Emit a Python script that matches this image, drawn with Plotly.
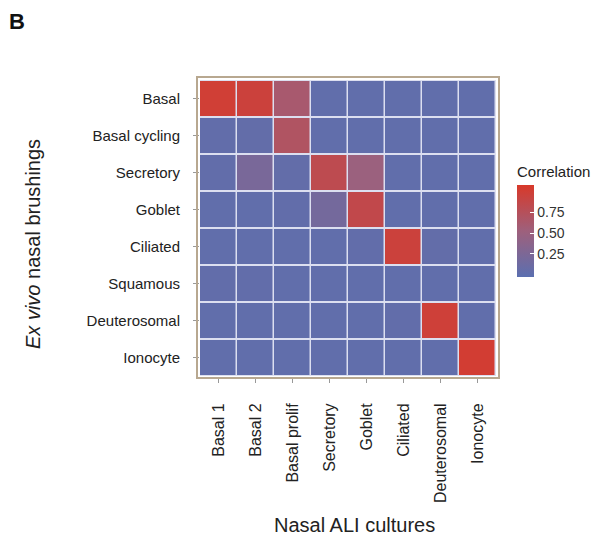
import plotly.graph_objects as go

columns = ["Basal 1", "Basal 2", "Basal prolif", "Secretory", "Goblet", "Ciliated", "Deuterosomal", "Ionocyte"]
rows = ["Basal", "Basal cycling", "Secretory", "Goblet", "Ciliated", "Squamous", "Deuterosomal", "Ionocyte"]

row_basal = [1.00, 0.96, 0.62, 0.02, 0.02, 0.02, 0.02, 0.02]
row_basal_cycling = [0.03, 0.04, 0.70, 0.02, 0.02, 0.02, 0.02, 0.02]
row_secretory = [0.03, 0.22, 0.04, 0.82, 0.50, 0.02, 0.02, 0.02]
row_goblet = [0.02, 0.02, 0.03, 0.18, 0.86, 0.02, 0.02, 0.02]
row_ciliated = [0.02, 0.02, 0.02, 0.02, 0.03, 0.96, 0.04, 0.02]
row_squamous = [0.03, 0.03, 0.02, 0.02, 0.02, 0.02, 0.02, 0.02]
row_deuterosomal = [0.02, 0.02, 0.02, 0.02, 0.02, 0.03, 0.98, 0.02]
row_ionocyte = [0.02, 0.02, 0.02, 0.02, 0.02, 0.02, 0.02, 1.02]

z = [row_basal, row_basal_cycling, row_secretory, row_goblet,
     row_ciliated, row_squamous, row_deuterosomal, row_ionocyte]

colorscale = [[0.0, "#5b6fb0"], [0.5, "#9e607c"], [1.0, "#d8392a"]]

W, H = 601, 537
L, R, T, B = 200, 105, 80, 161
PW, PH = W - L - R, H - T - B


def px(xp):
    return (xp - L) / PW


def py(yp):
    return (H - B - yp) / PH


fig = go.Figure(go.Heatmap(
    z=z, x=columns, y=rows,
    zmin=-0.03, zmax=1.08,
    colorscale=colorscale,
    xgap=1.5, ygap=2,
    colorbar=dict(
        title=dict(text="Correlation", side="top", font=dict(size=15, color="#222")),
        tickvals=[0.25, 0.5, 0.75], ticktext=["0.25", "0.50", "0.75"],
        ticks="inside", tickcolor="white", ticklen=4,
        tickfont=dict(size=14, color="#333"),
        lenmode="pixels", len=114, thickness=17,
        x=px(517), xanchor="left", xpad=0, y=py(220), yanchor="middle", ypad=0,
        outlinewidth=0,
    ),
))

fig.update_layout(
    width=W, height=H,
    margin=dict(l=L, r=R, t=T, b=B, autoexpand=False),
    paper_bgcolor="white",
    plot_bgcolor="#dcdff0",
    font=dict(family="Liberation Sans, Arial, sans-serif", size=14, color="#222"),
    xaxis=dict(tickangle=-90, ticks="outside", ticklen=6, tickcolor="#999",
               ticklabelstandoff=14,
               showgrid=False, zeroline=False, tickfont=dict(size=16, color="#222")),
    yaxis=dict(autorange="reversed", ticks="outside", ticklen=6, tickcolor="#999",
               ticklabelstandoff=10,
               showgrid=False, zeroline=False, tickfont=dict(size=15, color="#222")),
    shapes=[dict(type="rect", xref="paper", yref="paper",
                 x0=px(197), x1=px(499), y0=py(378), y1=py(77),
                 line=dict(color="#b8a890", width=2), fillcolor="rgba(0,0,0,0)")],
)

fig.add_annotation(text="<b>B</b>", xref="paper", yref="paper",
                   x=px(17), y=py(22), xanchor="center", yanchor="middle",
                   showarrow=False, font=dict(size=22, color="#111"))
fig.add_annotation(text="Nasal ALI cultures", xref="paper", yref="paper",
                   x=px(354), y=py(525), xanchor="center", yanchor="middle",
                   showarrow=False, font=dict(size=20, color="#222"))
fig.add_annotation(text="<i>Ex vivo</i> nasal brushings", xref="paper", yref="paper",
                   x=px(33), y=py(244), xanchor="center", yanchor="middle", textangle=-90,
                   showarrow=False, font=dict(size=20, color="#222"))

fig.write_html("out.html", config={"displayModeBar": False},
               post_script="document.body.style.margin='0px';document.body.style.overflow='hidden';")
